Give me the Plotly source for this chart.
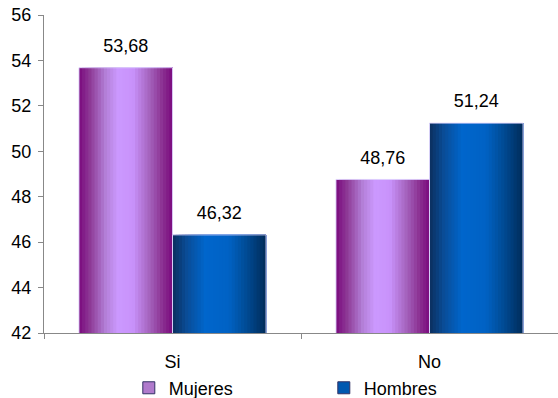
import plotly.graph_objects as go

categories = ["Si", "No"]
mujeres = [53.68, 48.76]
hombres = [46.32, 51.24]
series_names = ["Mujeres", "Hombres"]
y_ticks = [42, 44, 46, 48, 50, 52, 54, 56]

def hex2rgb(h):
    h = h.lstrip("#")
    return tuple(int(h[i:i + 2], 16) for i in (0, 2, 4))

def interp(stops, t):
    for (p0, c0), (p1, c1) in zip(stops, stops[1:]):
        if p0 <= t <= p1:
            f = (t - p0) / (p1 - p0) if p1 > p0 else 0
            a, b = hex2rgb(c0), hex2rgb(c1)
            return "rgb(%d,%d,%d)" % tuple(round(a[i] + (b[i] - a[i]) * f) for i in range(3))
    return stops[-1][1]

purple_stops = [(0, "#7A0A7E"), (0.12, "#8E3A96"), (0.28, "#B27ED6"), (0.42, "#CC99FF"),
                (0.58, "#C892FA"), (0.75, "#A564BE"), (0.9, "#8A2E90"), (1, "#7A0A7E")]
blue_stops = [(0, "#0B2F5E"), (0.15, "#0A4C96"), (0.35, "#0066CC"), (0.6, "#0062C4"),
              (0.8, "#004A92"), (1, "#002B58")]

half = 0.364
N = 30
FONT = "Liberation Sans, Arial"
fig = go.Figure()

for vals, stops, start in [(mujeres, purple_stops, -half), (hombres, blue_stops, 0.0)]:
    w = half / N
    for k in range(N):
        t = (k + 0.5) / N
        fig.add_trace(go.Bar(
            x=categories, y=vals, width=half - k * w, offset=start + k * w,
            marker=dict(color=interp(stops, t), line=dict(width=0)),
            showlegend=False, hoverinfo="skip"))
    # thin light outline
    fig.add_trace(go.Bar(
        x=categories, y=vals, width=half, offset=start,
        marker=dict(color="rgba(0,0,0,0)", line=dict(color="rgba(225,215,255,0.9)", width=1)),
        showlegend=False, hoverinfo="skip"))
    # value labels, placed above the bar tops
    fig.add_trace(go.Bar(
        x=categories, y=[0.38] * len(vals), base=vals, width=half, offset=start,
        customdata=vals, texttemplate="%{customdata:.2f}", textposition="outside",
        constraintext="none", marker=dict(color="rgba(0,0,0,0)", line=dict(width=0)),
        textfont=dict(size=18, color="#000000", family=FONT),
        cliponaxis=False, showlegend=False, hoverinfo="skip"))

for name, col in zip(series_names, ["#B07ACC", "#0058B0"]):
    fig.add_trace(go.Bar(x=[None], y=[None], name=name,
                         marker=dict(color=col, line=dict(color="#333366", width=1))))

fig.update_layout(
    width=558, height=398,
    margin=dict(l=44, r=0, t=15, b=65, autoexpand=False),
    paper_bgcolor="white", plot_bgcolor="white",
    barmode="overlay", separators=",.",
    font=dict(family=FONT, size=18, color="#000000"),
    showlegend=True,
    legend=dict(orientation="h", x=0.165, y=-0.115, xanchor="left", yanchor="top",
                entrywidth=150, font=dict(size=18), itemwidth=30,
                tracegroupgap=0, borderwidth=0),
    yaxis=dict(range=[42, 56], tickvals=y_ticks, showgrid=False, showline=True,
               linecolor="#888888", linewidth=1, ticks="outside", ticklen=5,
               tickcolor="#888888", zeroline=False, automargin=False,
               ticklabelstandoff=3),
    xaxis=dict(showgrid=False, showline=True, linecolor="#888888", linewidth=1,
               ticks="outside", tickson="boundaries", ticklen=5, tickcolor="#888888",
               range=[-0.5, 1.5], automargin=False, ticklabelstandoff=12),
)

fig.write_html("out.html", config={"displayModeBar": False},
               post_script="document.body.style.margin='0';")
